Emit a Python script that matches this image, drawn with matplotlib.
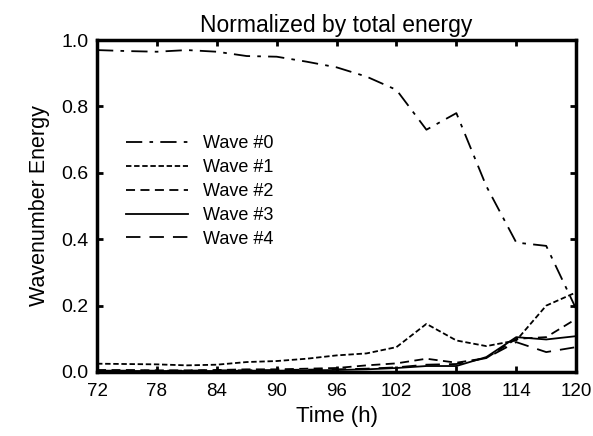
import matplotlib
matplotlib.use("Agg")
import matplotlib.pyplot as plt

plt.rcParams['font.family'] = ['Liberation Sans', 'DejaVu Sans']

time_h = [72, 75, 78, 81, 84, 87, 90, 93, 96, 99, 102, 105, 108, 111, 114, 117, 120]
wave0 = [0.970, 0.967, 0.965, 0.970, 0.965, 0.952, 0.950, 0.935, 0.918, 0.890, 0.850, 0.730, 0.780, 0.560, 0.390, 0.380, 0.190]
wave1 = [0.025, 0.024, 0.023, 0.020, 0.022, 0.030, 0.033, 0.040, 0.050, 0.056, 0.075, 0.145, 0.095, 0.078, 0.095, 0.200, 0.240]
wave2 = [0.006, 0.006, 0.005, 0.005, 0.006, 0.008, 0.008, 0.010, 0.012, 0.020, 0.026, 0.040, 0.028, 0.042, 0.100, 0.105, 0.160]
wave3 = [0.003, 0.003, 0.003, 0.003, 0.003, 0.004, 0.004, 0.005, 0.006, 0.008, 0.012, 0.018, 0.018, 0.045, 0.105, 0.098, 0.108]
wave4 = [0.004, 0.004, 0.004, 0.004, 0.005, 0.005, 0.006, 0.007, 0.008, 0.010, 0.014, 0.022, 0.024, 0.042, 0.090, 0.060, 0.075]
labels = ["Wave #0", "Wave #1", "Wave #2", "Wave #3", "Wave #4"]
xticks = [72, 78, 84, 90, 96, 102, 108, 114, 120]
yticks = [0.0, 0.2, 0.4, 0.6, 0.8, 1.0]

fig = plt.figure(figsize=(5.93, 4.36), dpi=100)
ax = fig.add_axes([0.1636, 0.1468, 0.808, 0.7612])

styles = [(0, (9, 4, 2, 4)), (0, (3, 1.5)), (0, (5, 3)), '-', (0, (8, 5))]
for vals, lab, ls in zip([wave0, wave1, wave2, wave3, wave4], labels, styles):
    ax.plot(time_h, vals, color='black', linestyle=ls, linewidth=1.3, label=lab)

ax.set_xlim(72, 120)
ax.set_ylim(0, 1.0)
ax.set_xticks(xticks)
ax.set_xticklabels([str(t) for t in xticks])
ax.set_yticks(yticks)
ax.set_yticklabels([f"{v:.1f}" for v in yticks])
ax.tick_params(direction='in', length=4, width=2, top=True, right=True)
ax.tick_params(axis='x', pad=8, labelsize=13.5)
ax.tick_params(axis='y', pad=6, labelsize=14)
for s in ax.spines.values():
    s.set_linewidth(2.5)

ax.set_title("Normalized by total energy", fontsize=16.5, pad=6)
ax.set_xlabel("Time (h)", fontsize=16, labelpad=4)
ax.set_ylabel("Wavenumber Energy", fontsize=15.5, labelpad=8)

ax.legend(loc='upper left', bbox_to_anchor=(0.0275, 0.762), frameon=False, fontsize=13,
          handlelength=3.4, handletextpad=0.83, labelspacing=0.38)

fig.savefig("out.png", dpi=100)
